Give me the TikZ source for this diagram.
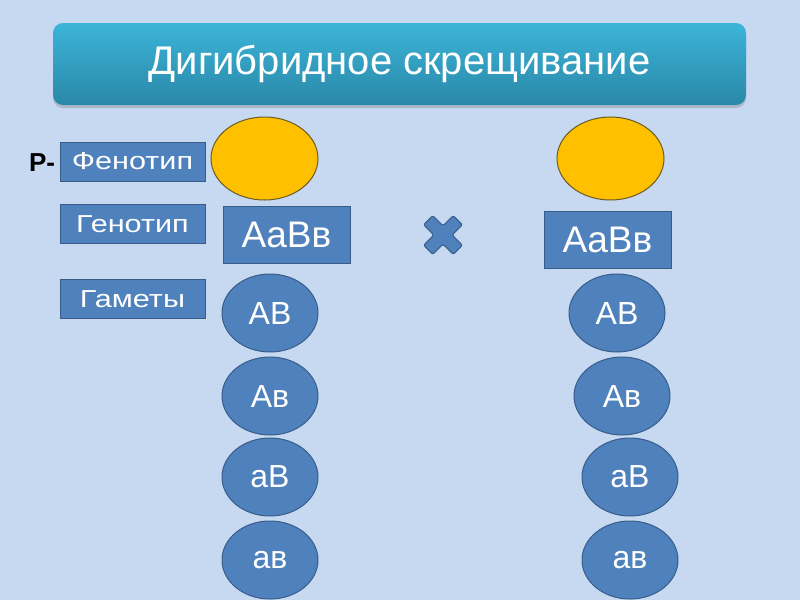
\documentclass[tikz,border=0pt]{standalone}
\usepackage{fontspec}
\setmainfont{Liberation Sans}
\newfontfamily\widesans[FakeStretch=1.25]{Liberation Sans}
\usetikzlibrary{shapes,positioning,shadows}

\definecolor{bgblue}{HTML}{C6D9F1}
\definecolor{boxblue}{HTML}{4F81BD}
\definecolor{boxedge}{HTML}{385D8A}
\definecolor{titletop}{HTML}{3CB4D8}
\definecolor{titlebot}{HTML}{2A88A8}
\definecolor{phenoyellow}{HTML}{FFC000}
\definecolor{phenoedge}{HTML}{6B5A22}

\tikzset{
  labelbox/.style={draw=boxedge, fill=boxblue, text=white, minimum width=145pt, minimum height=39pt, inner sep=0pt, font=\widesans\fontsize{24.5}{26}\selectfont},
  genobox/.style={draw=boxedge, fill=boxblue, text=white, minimum width=127pt, minimum height=57pt, inner sep=0pt, font=\fontsize{37}{40}\selectfont},
  gamete/.style={ellipse, draw=boxedge, fill=boxblue, text=white, minimum width=96pt, minimum height=78pt, inner sep=0pt, font=\fontsize{32}{36}\selectfont},
  phenotype/.style={ellipse, draw=phenoedge, fill=phenoyellow, minimum width=107pt, minimum height=83pt, inner sep=0pt}
}

\begin{document}
\begin{tikzpicture}[x=1pt,y=-1pt,line width=1pt]
			% Background
			\fill[bgblue] (0,0) rectangle (800,600);
			\useasboundingbox (0,0) rectangle (800,600);
			
			% Title
			\node[rounded corners=10pt, top color=titletop, bottom color=titlebot, draw=none,
			  drop shadow={shadow xshift=0pt, shadow yshift=-3pt, opacity=0.35},
			  minimum width=693pt, minimum height=82pt, text=white,
			  font=\fontsize{40}{44}\selectfont] (title) at (399.5,64) {Дигибридное скрещивание};
			
			% Row labels
			\node[font=\bfseries\fontsize{26}{28}\selectfont] (parents) at (42,163) {P-};
			\node[labelbox] (pheno) at (132.5,161.5) {Фенотип};
			\node[labelbox] (geno) at (132.5,224) {Генотип};
			\node[labelbox] (gam) at (132.5,299) {Гаметы};
			
			% Left parent
			\node[phenotype] (phenoL) at (264.5,158.5) {};
			\node[genobox] (genoL) at (286.5,234.5) {AaBв};
			\node[gamete] (gamLa) at (270,313) {AB};
			\node[gamete] (gamLb) at (270,396) {Aв};
			\node[gamete] (gamLc) at (270,477) {aB};
			\node[gamete] (gamLd) at (270,560) {aв};
			
			% Right parent
			\node[phenotype] (phenoR) at (610.5,158.5) {};
			\node[genobox] (genoR) at (607.5,240) {AaBв};
			\node[gamete] (gamRa) at (617,313) {AB};
			\node[gamete] (gamRb) at (622,396) {Aв};
			\node[gamete] (gamRc) at (630,477) {aB};
			\node[gamete] (gamRd) at (630,560) {aв};
			
			% Cross sign
			\coordinate (cross) at (443,235);
			\draw[boxedge, fill=boxblue, rounded corners=2pt, rotate around={45:(cross)}, shift={(cross)}]
			  (6.5,21) -- (6.5,6.5) -- (21,6.5) -- (21,-6.5) -- (6.5,-6.5) -- (6.5,-21) -- (-6.5,-21) -- (-6.5,-6.5)
			  -- (-21,-6.5) -- (-21,6.5) -- (-6.5,6.5) -- (-6.5,21) -- cycle;
		\end{tikzpicture}
\end{document}
